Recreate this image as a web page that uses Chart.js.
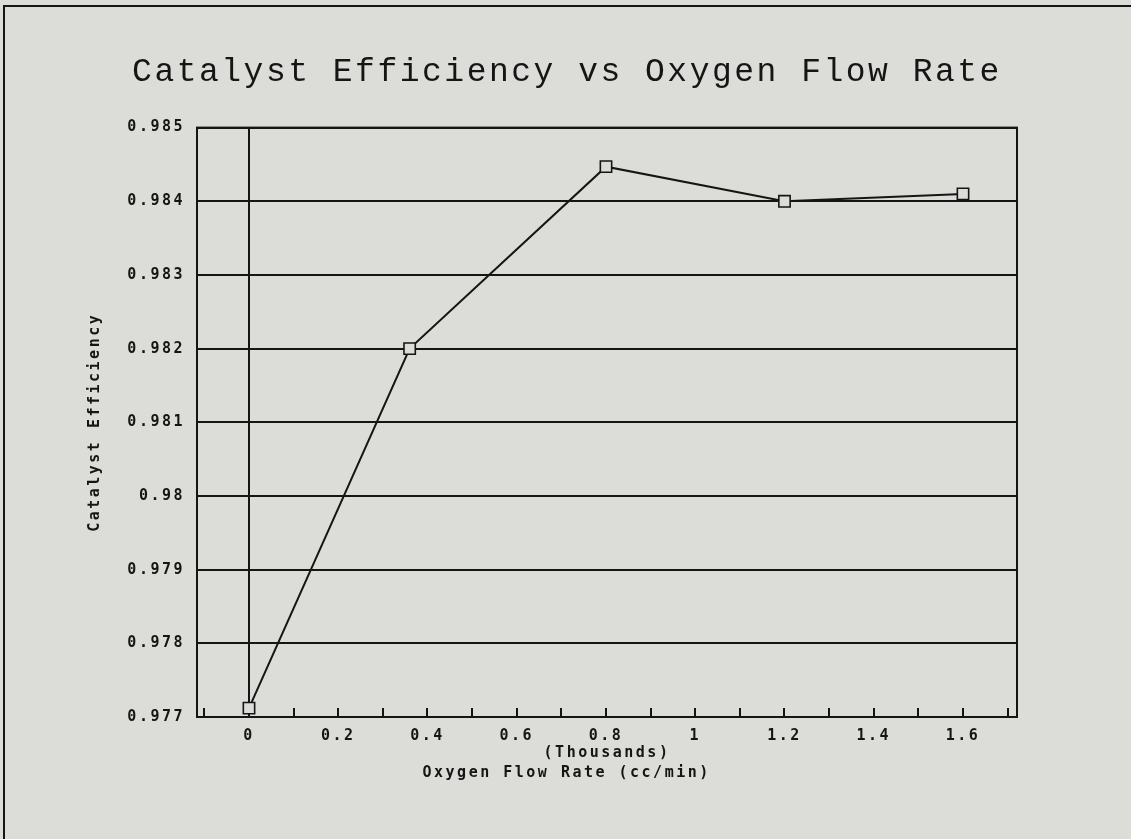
<!DOCTYPE html>
<html>
<head>
<meta charset="utf-8">
<title>Catalyst Efficiency vs Oxygen Flow Rate</title>
<script src="https://cdn.jsdelivr.net/npm/chart.js@4.4.1/dist/chart.umd.min.js"></script>
<style>
  html, body { margin: 0; padding: 0; background: #dcdcd8; overflow: hidden; }
  #frame {
    position: absolute; left: 3px; top: 5px; width: 1200px; height: 900px;
    border-left: 2px solid #151515; border-top: 2px solid #151515;
  }
  #chart { position: absolute; left: 0; top: 0; }
</style>
</head>
<body>
<div id="frame"></div>
<canvas id="chart" width="1131" height="839"></canvas>
<script>
// oxygen flow (thousands of cc/min) against catalyst efficiency
const flowRates = [0, 0.36, 0.8, 1.2, 1.6];
const efficiency = [0.97712, 0.982, 0.98447, 0.984, 0.9841];

const xTickValues = [0, 0.2, 0.4, 0.6, 0.8, 1, 1.2, 1.4, 1.6];
const xMinorTicks = [-0.1, 0, 0.1, 0.2, 0.3, 0.4, 0.5, 0.6, 0.7, 0.8, 0.9, 1, 1.1, 1.2, 1.3, 1.4, 1.5, 1.6, 1.7];
const yTickValues = [0.977, 0.978, 0.979, 0.98, 0.981, 0.982, 0.983, 0.984, 0.985];

const INK = '#151515';
const PAPER = '#dcdcd8';
const labelFont = { family: 'DejaVu Sans Mono', size: 15, weight: 'bold' };

// plotter style spacing for all the lettering, plus the box and the little x ticks
const plotFrame = {
  id: 'plotFrame',
  beforeLayout(chart) { chart.ctx.letterSpacing = '2.5px'; },
  beforeDraw(chart) { chart.ctx.letterSpacing = '2.5px'; },
  beforeDatasetsDraw(chart) {
    const { ctx, chartArea: a } = chart;
    const x = chart.scales.x;
    ctx.save();
    ctx.strokeStyle = INK;
    ctx.lineWidth = 2;
    ctx.strokeRect(a.left, a.top, a.right - a.left, a.bottom - a.top);
    ctx.beginPath();
    xMinorTicks.forEach(v => {
      const px = Math.round(x.getPixelForValue(v));
      ctx.moveTo(px, a.bottom);
      ctx.lineTo(px, a.bottom - 9);
    });
    ctx.stroke();
    ctx.restore();
  }
};

const fmt = v => String(+v.toFixed(3));

new Chart(document.getElementById('chart'), {
  type: 'line',
  data: {
    datasets: [{
      data: flowRates.map((f, i) => ({ x: f, y: efficiency[i] })),
      borderColor: INK,
      borderWidth: 2,
      pointStyle: 'rect',
      pointRadius: 8,
      pointBorderWidth: 1.6,
      pointBorderColor: INK,
      pointBackgroundColor: PAPER,
      tension: 0,
      clip: false
    }]
  },
  options: {
    responsive: false,
    devicePixelRatio: 1,
    animation: false,
    layout: { padding: { left: 80, right: 77, top: 52, bottom: 52 } },
    plugins: {
      legend: { display: false },
      tooltip: { enabled: false },
      title: {
        display: true,
        text: 'Catalyst Efficiency vs Oxygen Flow Rate',
        color: INK,
        font: { family: 'Liberation Mono', size: 33, weight: 'normal' },
        padding: { top: 0, bottom: 36 }
      }
    },
    scales: {
      x: {
        type: 'linear',
        min: -0.1165,
        max: 1.721,
        afterBuildTicks: s => { s.ticks = xTickValues.map(v => ({ value: v })); },
        afterFit: s => { s.height = 70; },
        grid: {
          drawTicks: false,
          lineWidth: 2,
          color: c => (c.tick && c.tick.value === 0 ? INK : 'rgba(0,0,0,0)')
        },
        border: { display: true, color: INK, width: 2 },
        ticks: { color: INK, font: labelFont, padding: 10, callback: v => fmt(v) },
        title: {
          display: true,
          // second line sits a little left of the first, as on the plotter sheet
          text: ['(Thousands)', 'Oxygen Flow Rate (cc/min)       '],
          color: INK,
          font: { family: 'DejaVu Sans Mono', size: 15, weight: 'bold', lineHeight: '20px' },
          padding: { top: 0, bottom: 4 }
        }
      },
      y: {
        min: 0.977,
        max: 0.985,
        afterBuildTicks: s => { s.ticks = yTickValues.map(v => ({ value: v })); },
        afterFit: s => { s.width = 117; },
        grid: { drawTicks: false, lineWidth: 2, color: INK },
        border: { display: true, color: INK, width: 2 },
        ticks: { color: INK, font: labelFont, padding: 12, callback: v => fmt(v) },
        title: {
          display: true,
          text: 'Catalyst Efficiency',
          color: INK,
          font: labelFont,
          padding: { top: 6, bottom: 0 }
        }
      },
      // empty strip on the right so the page title centres where it should
      margin: {
        position: 'right',
        afterFit: s => { s.width = 37; },
        ticks: { display: false },
        grid: { display: false },
        border: { display: false }
      }
    }
  },
  plugins: [plotFrame]
});
</script>
</body>
</html>
